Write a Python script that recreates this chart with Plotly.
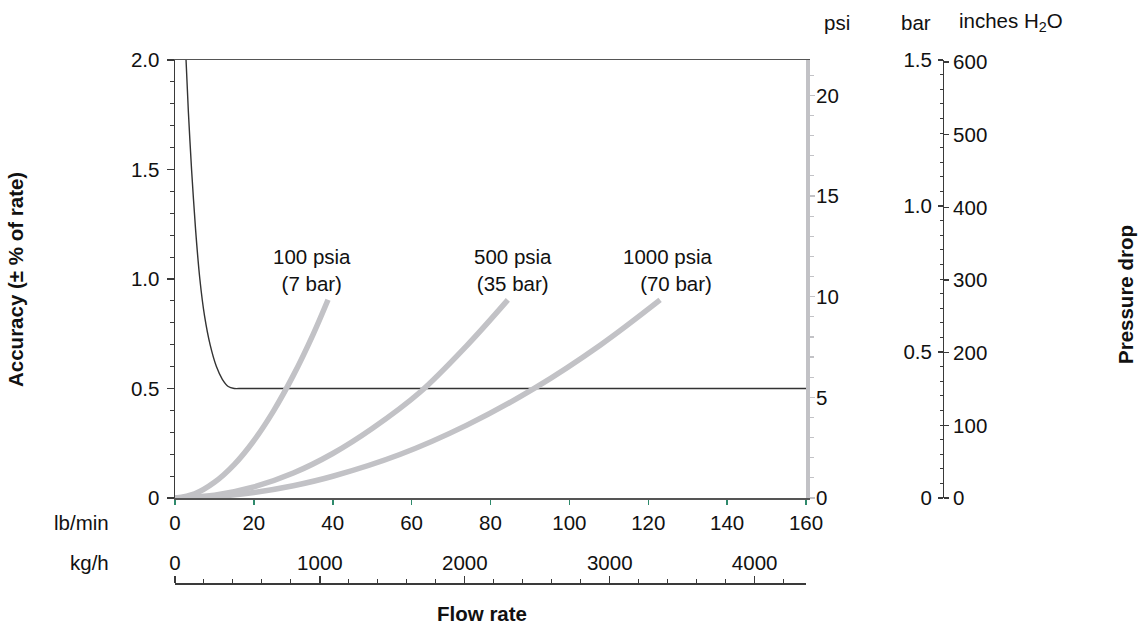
import numpy as np
import plotly.graph_objects as go

# ---------------- data ----------------
# accuracy curve (± % of rate) vs flow rate (lb/min)
acc_flow = [2.8, 3.4, 4.2, 5.2, 6.3, 7.5, 8.9, 10.5, 12.0, 13.5, 15.0, 17.0, 160]
acc_val = [2.0, 1.76, 1.5, 1.23, 1.0, 0.83, 0.7, 0.6, 0.542, 0.509, 0.5, 0.5, 0.5]

# pressure drop curves (psi) vs flow rate (lb/min)
p100_flow = [0, 5, 10, 15, 20, 25, 30, 35, 38.8]
p100_psi = [0, 0.21, 0.78, 1.66, 2.85, 4.33, 6.09, 8.12, 9.85]
p500_flow = [0, 10, 20, 30, 40, 50, 62.1, 74, 84.4]
p500_psi = [0, 0.14, 0.55, 1.24, 2.21, 3.45, 5.25, 7.57, 9.84]
p1000_flow = [0, 10, 20, 30, 40, 57, 74, 91.3, 107.8, 123]
p1000_psi = [0, 0.07, 0.275, 0.61, 1.08, 2.16, 3.62, 5.47, 7.59, 9.84]

curve_labels = ["100 psia<br>(7 bar)", "500 psia<br>(35 bar)", "1000 psia<br>(70 bar)"]
label_x = [34.7, 85.7, 136.9]
label_y = [1.04, 1.04, 1.04]
label_xanchor = ["center", "center", "right"]
label_align = ["center", "center", "right"]

# ticks
lb_ticks = [0, 20, 40, 60, 80, 100, 120, 140, 160]
kgh_ticks = [0, 1000, 2000, 3000, 4000]
acc_ticks = [0, 0.5, 1.0, 1.5, 2.0]
acc_ticktext = ["0", "0.5", "1.0", "1.5", "2.0"]
psi_ticks = [0, 5, 10, 15, 20]
bar_ticks = [0, 0.5, 1.0, 1.5]
bar_ticktext = ["0", "0.5", "1.0", "1.5"]
inh2o_ticks = [0, 100, 200, 300, 400, 500, 600]

FLOW_MAX = 160.0                 # lb/min
KGH_PER_LBMIN = 60 * 0.45359237  # kg/h per lb/min
BAR_MAX = 1.5
PSI_MAX = BAR_MAX * 14.5038
INH2O_MAX = BAR_MAX * 401.865
ACC_MAX = 2.0

# ---------------- geometry ----------------
W, H = 1140, 625
L, R, T, B = 175, 20, 60, 30
PW, PH = W - L - R, H - T - B


def fx(p):
    return (p - L) / PW


def fy(p):
    return (H - B - p) / PH


FONT = "Liberation Sans, Arial, Helvetica, sans-serif"
FS = 20.5
GRAY = "#c2c2c6"
DARK = "#3a3a3a"
GREEN = "#2f8a6c"

fig = go.Figure()

for fl, ps in [(p100_flow, p100_psi), (p500_flow, p500_psi), (p1000_flow, p1000_psi)]:
    fig.add_trace(go.Scatter(x=fl, y=ps, xaxis="x", yaxis="y2", mode="lines",
                             line=dict(color=GRAY, width=5.5, shape="spline", smoothing=1.0),
                             hoverinfo="skip", showlegend=False))

fig.add_trace(go.Scatter(x=acc_flow, y=acc_val, xaxis="x", yaxis="y", mode="lines",
                         line=dict(color="#333333", width=1.4, shape="spline", smoothing=0.6),
                         hoverinfo="skip", showlegend=False))

# invisible anchors so the extra axes get drawn
fig.add_trace(go.Scatter(x=[kgh_ticks[0]], y=[acc_ticks[0]], xaxis="x2", yaxis="y",
                         mode="markers", marker=dict(opacity=0), hoverinfo="skip", showlegend=False))
fig.add_trace(go.Scatter(x=[lb_ticks[0]], y=[bar_ticks[0]], xaxis="x", yaxis="y3",
                         mode="markers", marker=dict(opacity=0), hoverinfo="skip", showlegend=False))
fig.add_trace(go.Scatter(x=[lb_ticks[0]], y=[inh2o_ticks[0]], xaxis="x", yaxis="y4",
                         mode="markers", marker=dict(opacity=0), hoverinfo="skip", showlegend=False))

tickfont = dict(family=FONT, size=FS, color="#111")
x_dom = [0, fx(806)]
y_dom = [fy(498), 1]

fig.update_layout(
    width=W, height=H, autosize=False,
    margin=dict(l=L, r=R, t=T, b=B, autoexpand=False),
    paper_bgcolor="white", plot_bgcolor="white",
    font=dict(family=FONT, size=FS, color="#111"),
    showlegend=False,
    xaxis=dict(domain=x_dom, range=[0, FLOW_MAX], showgrid=False, zeroline=False,
               showline=True, linecolor="#555", linewidth=1.5, mirror=True,
               ticks="outside", ticklen=5, tickwidth=1.5, tickcolor=GREEN,
               tickmode="array", tickvals=lb_ticks, tickfont=tickfont,
               ticklabelstandoff=1),
    xaxis2=dict(overlaying="x", anchor="free", position=fy(583), side="top",
                range=[0, FLOW_MAX * KGH_PER_LBMIN], showgrid=False, zeroline=False,
                showline=True, linecolor=DARK, linewidth=1.5,
                ticks="outside", ticklen=7, tickwidth=1.3, tickcolor=DARK,
                tickmode="array", tickvals=kgh_ticks, tickfont=tickfont,
                minor=dict(tickmode="array", tickvals=list(np.arange(0, 4400, 200)),
                           ticks="outside", ticklen=4, tickcolor=DARK, tickwidth=1),
                ticklabelstandoff=-2),
    yaxis=dict(domain=y_dom, range=[0, ACC_MAX], showgrid=False, zeroline=False,
               showline=True, linecolor=DARK, linewidth=1.5,
               ticks="outside", ticklen=7, tickwidth=1.3, tickcolor=DARK,
               tickmode="array", tickvals=acc_ticks, ticktext=acc_ticktext, tickfont=tickfont,
               minor=dict(tickmode="array", tickvals=list(np.round(np.arange(0, 2.01, 0.1), 2)),
                          ticks="outside", ticklen=4, tickcolor=DARK, tickwidth=1),
               ticklabelstandoff=3),
    yaxis2=dict(overlaying="y", side="right", anchor="x", range=[0, PSI_MAX],
                showgrid=False, zeroline=False,
                showline=True, linecolor=GRAY, linewidth=4,
                ticks="outside", ticklen=5, tickwidth=1.5, tickcolor=GRAY,
                tickmode="array", tickvals=psi_ticks, tickfont=tickfont,
                minor=dict(tickmode="array", tickvals=list(range(0, 22)),
                           ticks="outside", ticklen=4, tickcolor=GRAY, tickwidth=1.2),
                ticklabelstandoff=-3),
    yaxis3=dict(overlaying="y", anchor="free", position=fx(943), side="left",
                range=[0, BAR_MAX], showgrid=False, zeroline=False,
                showline=True, linecolor=DARK, linewidth=1.3,
                ticks="outside", ticklen=5, tickwidth=1.2, tickcolor=DARK,
                tickmode="array", tickvals=bar_ticks, ticktext=bar_ticktext, tickfont=tickfont,
                minor=dict(tickmode="array", tickvals=list(np.round(np.arange(0, 1.51, 0.05), 2)),
                           ticks="outside", ticklen=3, tickcolor=DARK, tickwidth=1),
                ticklabelstandoff=2),
    yaxis4=dict(overlaying="y", anchor="free", position=fx(943), side="right",
                range=[0, INH2O_MAX], showgrid=False, zeroline=False, showline=False,
                ticks="outside", ticklen=5, tickwidth=1.2, tickcolor=DARK,
                tickmode="array", tickvals=inh2o_ticks, tickfont=tickfont,
                ticklabelstandoff=0),
)

ann = []
for txt, x, y, xa, al in zip(curve_labels, label_x, label_y, label_xanchor, label_align):
    ann.append(dict(text=txt, x=x, y=y, xref="x", yref="y", xanchor=xa, yanchor="middle",
                    align=al, showarrow=False, font=dict(family=FONT, size=FS, color="#111")))


def pann(text, xp, yp, xa="center", ya="middle", bold=False, angle=0):
    return dict(text=("<b>%s</b>" % text) if bold else text, x=fx(xp), y=fy(yp),
                xref="paper", yref="paper", xanchor=xa, yanchor=ya, showarrow=False,
                textangle=angle, font=dict(family=FONT, size=FS, color="#111"))


ann += [
    pann("psi", 837, 22),
    pann("bar", 916, 22),
    pann("inches H<sub>2</sub>O", 957, 22, xa="left"),
    pann("lb/min", 111, 522, xa="right"),
    pann("kg/h", 111, 562, xa="right"),
    pann("Flow rate", 482, 613, bold=True),
    pann("Accuracy (± % of rate)", 15, 280, bold=True, angle=-90),
    pann("Pressure drop", 1125, 295, bold=True, angle=-90),
]
fig.update_layout(annotations=ann)

fig.write_html("out.html",
               config={"displayModeBar": False, "staticPlot": True},
               post_script="document.body.style.margin='0';document.body.style.overflow='hidden';")
